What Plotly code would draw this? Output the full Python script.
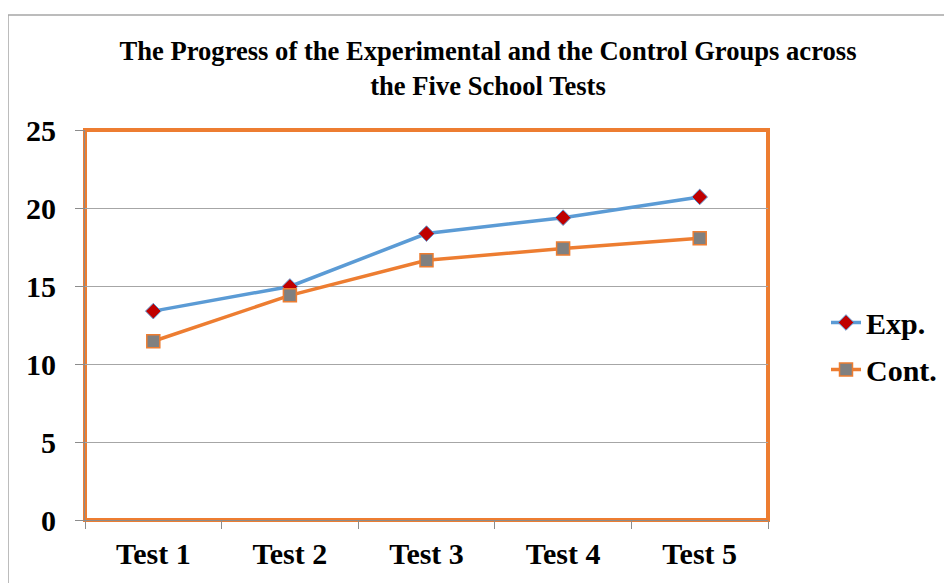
import plotly.graph_objects as go

categories = ["Test 1", "Test 2", "Test 3", "Test 4", "Test 5"]
exp_values = [13.39, 14.97, 18.36, 19.38, 20.71]
cont_values = [11.46, 14.40, 16.65, 17.40, 18.06]
y_ticks = [0, 5, 10, 15, 20, 25]

FONT = "Liberation Serif"
BLUE = "#5B9BD5"
ORANGE = "#ED7D31"

# page offset caused by default body margin
OX, OY = 8, 8
W, H = 952, 583

fig = go.Figure()
fig.add_trace(go.Scatter(
    x=categories, y=exp_values, name="Exp.", mode="lines+markers",
    legendgroup="exp",
    line=dict(color=BLUE, width=3.5),
    marker=dict(symbol="diamond", size=12, color="#C00000",
                line=dict(color=BLUE, width=1)),
))
fig.add_trace(go.Scatter(
    x=categories, y=cont_values, name="Cont.", mode="lines+markers",
    legendgroup="cont",
    line=dict(color=ORANGE, width=3.5),
    marker=dict(symbol="square", size=13, color="#808080",
                line=dict(color=ORANGE, width=1.5)),
))

# plot area in page pixels
PL, PR, PT, PB = 85, 768, 130, 520
L = PL - OX
R = W - (PR - OX)
T = PT - OY
B = H - (PB - OY)
PW, PH = PR - PL, PB - PT

def px_x(p):
    return (p - PL) / PW

def px_y(p):
    return (PB - p) / PH

bold = dict(family=FONT, size=30, color="black", weight="bold")

fig.update_layout(
    width=W, height=H,
    margin=dict(l=L, r=R, t=T, b=B),
    paper_bgcolor="white", plot_bgcolor="white",
    font=bold,
    title=dict(
        text="The Progress of the Experimental and the Control Groups across<br>the Five School Tests",
        x=(488 - OX) / W, xanchor="center", xref="container",
        y=1 - (52 - OY - 17 + 25) / H, yanchor="top",
        font=dict(family=FONT, size=26.6, color="black", weight="bold"),
    ),
    showlegend=True,
    legend=dict(
        x=px_x(826), xanchor="left", y=px_y(346), yanchor="middle",
        font=bold, bgcolor="rgba(0,0,0,0)", tracegroupgap=5,
    ),
    xaxis=dict(
        type="category", range=[-0.5, 4.5],
        showline=True, linecolor="#8C8C8C", linewidth=1,
        ticks="outside", tickson="boundaries", ticklen=8, tickcolor="#8C8C8C",
        showgrid=False, zeroline=False,
        tickfont=bold, ticklabelstandoff=7,
    ),
    yaxis=dict(
        range=[0, 25], tickvals=y_ticks,
        showline=True, linecolor="#8C8C8C", linewidth=1,
        ticks="outside", ticklen=9, tickcolor="#8C8C8C",
        showgrid=True, gridcolor="#A6A6A6", gridwidth=1, zeroline=False,
        tickfont=bold, ticklabelstandoff=13,
    ),
    shapes=[
        dict(type="rect", xref="paper", yref="paper", x0=0, x1=1, y0=0, y1=1,
             line=dict(color=ORANGE, width=4), layer="below"),
        dict(type="rect", xref="paper", yref="paper",
             x0=px_x(8), x1=px_x(1000), y0=px_y(15), y1=px_y(640),
             line=dict(color="#A6A6A6", width=1.5), layer="below"),
    ],
)

fig.write_html("out.html")
